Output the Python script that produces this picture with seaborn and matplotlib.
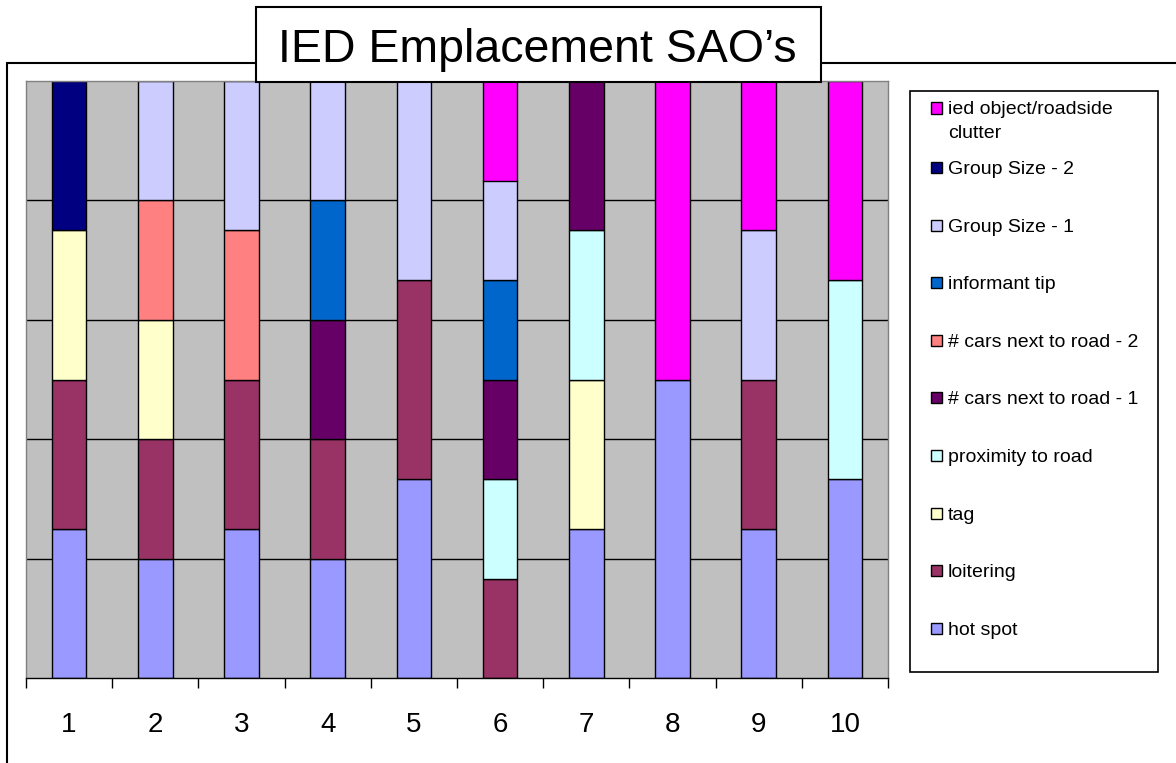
import matplotlib.pyplot as plt
import seaborn as sns
import pandas as pd
from matplotlib.patches import Rectangle

# Data: presence (1) of each indicator in each run; bars are drawn as 100% stacks
runs = [1, 2, 3, 4, 5, 6, 7, 8, 9, 10]
ied_clutter = [0, 0, 0, 0, 0, 1, 0, 1, 1, 1]
group_size_2 = [1, 0, 0, 0, 0, 0, 0, 0, 0, 0]
group_size_1 = [0, 1, 1, 1, 1, 1, 0, 0, 1, 0]
informant_tip = [0, 0, 0, 1, 0, 1, 0, 0, 0, 0]
cars_2 = [0, 1, 1, 0, 0, 0, 0, 0, 0, 0]
cars_1 = [0, 0, 0, 1, 0, 1, 1, 0, 0, 0]
proximity = [0, 0, 0, 0, 0, 1, 1, 0, 0, 1]
tag = [1, 1, 0, 0, 0, 0, 1, 0, 0, 0]
loitering = [1, 1, 1, 1, 1, 1, 0, 0, 1, 0]
hot_spot = [1, 1, 1, 1, 1, 0, 1, 1, 1, 1]

factors = ["ied object/roadside clutter", "Group Size - 2", "Group Size - 1",
           "informant tip", "# cars next to road - 2", "# cars next to road - 1",
           "proximity to road", "tag", "loitering", "hot spot"]
legend_labels = ["ied object/roadside\nclutter", "Group Size - 2", "Group Size - 1",
                 "informant tip", "# cars next to road - 2", "# cars next to road - 1",
                 "proximity to road", "tag", "loitering", "hot spot"]
series = [ied_clutter, group_size_2, group_size_1, informant_tip, cars_2,
          cars_1, proximity, tag, loitering, hot_spot]
colors = ["#FF00FF", "#000080", "#CCCCFF", "#0066CC", "#FF8080",
          "#660066", "#CCFFFF", "#FFFFCC", "#993366", "#9999FF"]

rows = []
for name, vals in zip(factors, series):
    for r, v in zip(runs, vals):
        if v > 0:
            rows.append({"run": r, "factor": name, "count": v})
df = pd.DataFrame(rows)

plt.rcParams['font.family'] = ['Liberation Sans', 'DejaVu Sans']

W, H = 1176, 763
def fx(x):
    return x / W
def fy(y):
    return 1 - y / H

fig = plt.figure(figsize=(11.76, 7.63), dpi=100)
ax = fig.add_axes([fx(26), fy(678), fx(888) - fx(26), fy(81) - fy(678)])

sns.histplot(data=df, x="run", hue="factor", weights="count", hue_order=factors,
             palette=dict(zip(factors, colors)), multiple="fill", discrete=True,
             shrink=0.4, alpha=1, edgecolor="black", linewidth=1, legend=False, ax=ax)

# drop empty segments
for p in list(ax.patches):
    if p.get_height() == 0:
        p.remove()

ax.set_facecolor("#C0C0C0")
ax.set_xlim(0.5, 10.5)
ax.set_ylim(0, 1)
ax.set_yticks([0.2, 0.4, 0.6, 0.8])
ax.yaxis.grid(True, color="black", linewidth=1)
ax.xaxis.grid(False)
ax.set_axisbelow(True)
ax.tick_params(axis="y", length=0, labelleft=False)
ax.set_xticks(runs)
ax.set_xticklabels([str(r) for r in runs], fontsize=20)
ax.set_xticks([r - 0.5 for r in runs] + [runs[-1] + 0.5], minor=True)
ax.tick_params(axis="x", which="major", length=0, pad=24.3)
ax.tick_params(axis="x", which="minor", length=7.5, width=1, color="black", direction="out")
ax.set_xlabel("")
ax.set_ylabel("")
for s in ["left", "top", "right"]:
    ax.spines[s].set_color("#808080")
    ax.spines[s].set_linewidth(1)
ax.spines["bottom"].set_color("black")
ax.spines["bottom"].set_linewidth(1)

# outer chart border
fig.add_artist(Rectangle((fx(7), fy(800)), fx(1250) - fx(7), fy(63) - fy(800),
                         transform=fig.transFigure, fill=False, edgecolor="black",
                         linewidth=1.5, zorder=1))

# title box
fig.add_artist(Rectangle((fx(256), fy(82)), fx(821) - fx(256), fy(7) - fy(82),
                         transform=fig.transFigure, facecolor="white", edgecolor="black",
                         linewidth=1.5, zorder=5))
fig.text(fx(537), fy(61.5), "IED Emplacement SAO\u2019s", fontsize=33.5,
         ha="center", va="baseline", zorder=6)

# legend
fig.add_artist(Rectangle((fx(910), fy(672)), fx(1158) - fx(910), fy(91) - fy(672),
                         transform=fig.transFigure, fill=False, edgecolor="black",
                         linewidth=1.2, zorder=2))
entry_y = [108] + [167.5 + 57.6 * i for i in range(9)]
for label, color, y in zip(legend_labels, colors, entry_y):
    fig.add_artist(Rectangle((fx(931), fy(y + 5.5)), fx(942) - fx(931), fy(y - 5.5) - fy(y + 5.5),
                             transform=fig.transFigure, facecolor=color, edgecolor="black",
                             linewidth=1, zorder=3))
    for k, line in enumerate(label.split("\n")):
        fig.text(fx(948), fy(y + 6.5 + 23.2 * k), line, fontsize=14, ha="left", va="baseline")

fig.savefig("out.png", dpi=100)
